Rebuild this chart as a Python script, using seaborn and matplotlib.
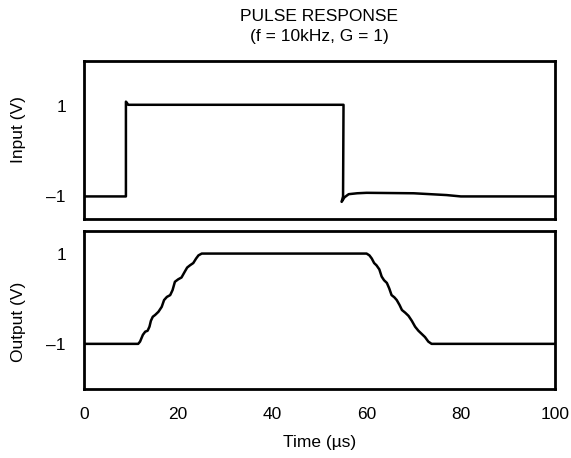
import matplotlib
matplotlib.use("Agg")
import matplotlib.pyplot as plt
import seaborn as sns

# ---- data ----
in_t = [0, 8.9, 8.9, 9.4, 55.1, 55.0, 54.7, 55.3, 56.2, 58, 60, 70, 77, 80, 100]
in_v = [-1, -1, 1.1, 1.03, 1.03, -1.0, -1.12, -1.02, -0.95, -0.93, -0.92, -0.93, -0.97, -1.0, -1.0]

out_t = [0, 11.5, 11.9, 12.5, 13.0, 13.5, 13.9, 14.2, 14.6, 15.1, 15.8, 16.5, 17.0, 17.6,
         18.3, 18.8, 19.3, 20.0, 20.7, 21.4, 21.9, 22.5, 23.2, 23.8, 24.3, 25.0,
         60.0, 60.6, 61.1, 61.6, 62.1, 62.7, 63.2, 63.7, 64.3, 64.8, 65.3, 65.9, 66.4,
         67.0, 67.5, 68.2, 68.9, 69.6, 70.3, 71.0, 71.7, 72.4, 73.1, 73.8, 74.9, 100]
out_v = [-1, -1, -0.95, -0.80, -0.73, -0.71, -0.62, -0.49, -0.40, -0.36, -0.29, -0.18, -0.03, 0.04,
         0.08, 0.19, 0.375, 0.43, 0.47, 0.60, 0.69, 0.74, 0.79, 0.89, 0.96, 1.0,
         1.0, 0.96, 0.89, 0.79, 0.74, 0.65, 0.49, 0.41, 0.35, 0.23, 0.08, 0.03, -0.03,
         -0.14, -0.25, -0.31, -0.38, -0.49, -0.62, -0.71, -0.78, -0.85, -0.95, -1.0, -1.0, -1.0]

x_ticks = [0, 20, 40, 60, 80, 100]
y_ticks = [-1, 1]
y_tick_labels = ["\u20131", "1"]
title = "PULSE RESPONSE\n(f = 10kHz, G = 1)"

sns.set_style("white")
plt.rcParams['font.family'] = ['Liberation Sans', 'DejaVu Sans']
plt.rcParams['text.color'] = 'black'
plt.rcParams['axes.labelcolor'] = 'black'
FS = 12.5

fig, (ax1, ax2) = plt.subplots(2, 1, figsize=(5.71, 4.58), dpi=100, sharex=True)
fig.subplots_adjust(left=84/571, right=555/571, top=1-61/458, bottom=1-389/458, hspace=12/158)

sns.lineplot(x=in_t, y=in_v, sort=False, estimator=None, color="black", lw=1.8, ax=ax1)
sns.lineplot(x=out_t, y=out_v, sort=False, estimator=None, color="black", lw=1.8, ax=ax2)

ax1.set_ylim(-1.5, 2)
ax2.set_ylim(-2, 1.5)
for ax in (ax1, ax2):
    ax.set_xlim(0, 100)
    ax.set_yticks(y_ticks)
    ax.set_yticklabels(y_tick_labels)
    ax.tick_params(length=0, labelsize=FS, pad=13, colors="black")
    for s in ax.spines.values():
        s.set_visible(True)
        s.set_color("black")
        s.set_linewidth(2.0)
    ax.grid(False)

ax2.set_xticks(x_ticks)
ax1.tick_params(axis="x", labelbottom=False)

ax1.set_ylabel("Input (V)", fontsize=FS, color="black")
ax2.set_ylabel("Output (V)", fontsize=FS, color="black")
ax1.yaxis.set_label_coords(-0.123, 0.563)
ax2.yaxis.set_label_coords(-0.123, 0.424)
ax2.set_xlabel("Time (\u00b5s)", fontsize=FS, labelpad=9.5, color="black")

ax1.set_title(title, fontsize=FS, pad=14.5, linespacing=1.4, color="black")

fig.savefig("out.png", dpi=100, facecolor="white")
